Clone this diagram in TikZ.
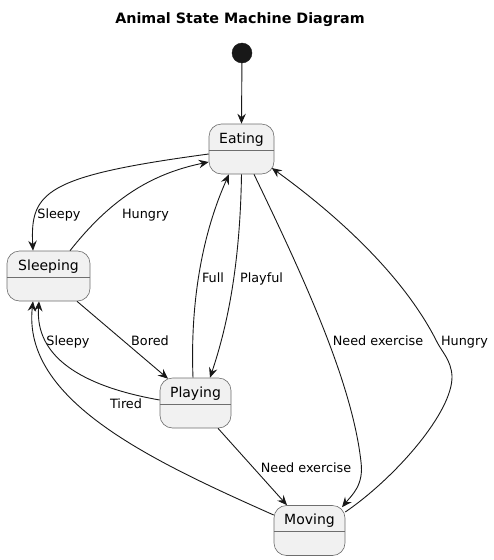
\documentclass[tikz,border=0pt]{standalone}
\usepackage{fontspec}
\setmainfont{DejaVu Sans}
\usetikzlibrary{arrows.meta}
\definecolor{edgec}{HTML}{181818}
\definecolor{boxfill}{HTML}{F1F1F1}
\definecolor{boxline}{HTML}{6E6E6E}
\begin{document}
\begin{tikzpicture}[x=1pt,y=-1pt,
  statebox/.style={draw=boxline, line width=0.6pt, fill=boxfill, rounded corners=12.5pt, minimum height=50pt, inner sep=0pt},
  divider/.style={draw=boxline, line width=0.6pt},
  sname/.style={anchor=base, inner sep=0pt, font=\fontsize{14}{16}\selectfont},
  elabel/.style={anchor=base, inner sep=0pt, font=\fontsize{12.8}{15}\selectfont},
  edge/.style={draw=edgec, line width=0.9pt, -{Stealth[length=10pt,width=8.5pt,inset=3.5pt]}}
]
\useasboundingbox (0,0) rectangle (494,560);
% title
\node[anchor=base, inner sep=0pt, font=\fontsize{14.3}{16}\selectfont\bfseries] (title) at (240,23) {Animal State Machine Diagram};
% initial
\node[circle, fill=edgec, draw=edgec, minimum size=20pt, inner sep=0pt] (init) at (242,53) {};
% states
\node[statebox, minimum width=65pt] (eat) at (241.5,149) {};
\node[statebox, minimum width=83pt] (sleep) at (48.5,276) {};
\node[statebox, minimum width=71pt] (play) at (195.5,403) {};
\node[statebox, minimum width=71pt] (move) at (309.5,530.5) {};
\draw[divider] ([shift={(0,1.5)}]eat.west) -- ([shift={(0,1.5)}]eat.east);
\draw[divider] ([shift={(0,1)}]sleep.west) -- ([shift={(0,1)}]sleep.east);
\draw[divider] ([shift={(0,1)}]play.west) -- ([shift={(0,1)}]play.east);
\draw[divider] ([shift={(0,0.5)}]move.west) -- ([shift={(0,0.5)}]move.east);
\node[sname] (eatname) at (241.5,143) {Eating};
\node[sname] (sleepname) at (48.5,270) {Sleeping};
\node[sname] (playname) at (195.5,397) {Playing};
\node[sname] (movename) at (309.5,524) {Moving};
% connectors
\draw[edge] (init) -- (eat.north);
\draw[edge] ([shift={(0,5)}]eat.west) .. controls (45,176) and (30,192) .. ([shift={(-15.5,0)}]sleep.north);
\draw[edge] ([shift={(21.5,0)}]sleep.north) .. controls (110,200) and (150,174) .. ([shift={(0,13)}]eat.west);
\draw[edge] (eat.south) .. controls (240,270) and (226,330) .. ([shift={(14.5,0)}]play.north);
\draw[edge] ([shift={(-2.5,0)}]play.north) .. controls (190,300) and (203,232) .. ([shift={(-12.5,0)}]eat.south);
\draw[edge] ([shift={(12.5,0)}]eat.south) .. controls (300,270) and (352,380) .. (361,462) .. controls (364,485) and (352,495) .. ([shift={(32.5,2)}]move.north);
\draw[edge] ([shift={(0,-18.5)}]move.east) .. controls (395,478) and (453,412) .. (452,376) .. controls (451,360) and (442,352) .. (437,342) .. controls (402,272) and (330,210) .. ([shift={(-2.5,19)}]eat.east);
\draw[edge] ([shift={(28.5,0)}]sleep.south) -- ([shift={(-27.5,1)}]play.north);
\draw[edge] ([shift={(0,-3)}]play.west) .. controls (80,386) and (35,356) .. ([shift={(-9.5,0)}]sleep.south);
\draw[edge] ([shift={(0,-15.5)}]move.west) .. controls (150,460) and (22,400) .. ([shift={(-15.5,0)}]sleep.south);
\draw[edge] ([shift={(22.5,0)}]play.south) -- ([shift={(-22.5,0)}]move.north);
% labels
\node[elabel] (l1) at (59,218) {Sleepy};
\node[elabel] (l2) at (145.5,218) {Hungry};
\node[elabel] (l3) at (213,282) {Full};
\node[elabel] (l4) at (261.5,282) {Playful};
\node[elabel] (l5) at (378,345) {Need exercise};
\node[elabel] (l6) at (464.5,345) {Hungry};
\node[elabel] (l7) at (68,345) {Sleepy};
\node[elabel] (l8) at (150,345) {Bored};
\node[elabel] (l9) at (126,408) {Tired};
\node[elabel] (l10) at (306,472) {Need exercise};
\end{tikzpicture}
\end{document}
